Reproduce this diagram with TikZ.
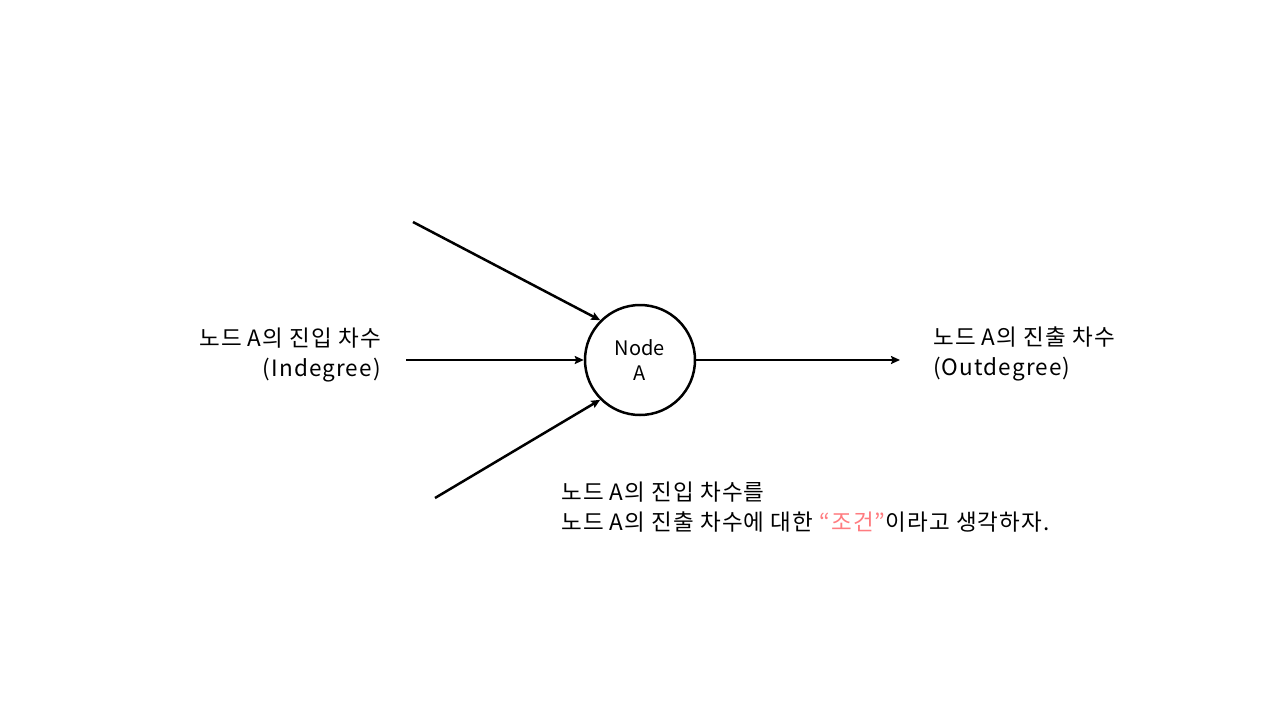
\documentclass[tikz,border=0pt]{standalone}
\usepackage{fontspec}
\newfontfamily\kr{Noto Sans CJK KR}
\newfontfamily\krw[LetterSpace=5]{Noto Sans CJK KR}
\usetikzlibrary{arrows.meta}
\definecolor{pinkred}{RGB}{255,124,128}
\tikzset{
  lbl/.style={font=\krw\fontsize{22.5}{30}\selectfont, inner sep=0pt},
  conn/.style={line width=2.5pt, -{Stealth[length=9pt,width=8pt,inset=1.5pt]}},
  nodecirc/.style={circle, draw, line width=2.5pt, minimum size=110pt, inner sep=0pt, align=center, font=\kr\fontsize{20}{25}\selectfont}
}
\begin{document}
\begin{tikzpicture}[x=1pt,y=-1pt]
\useasboundingbox (0,0) rectangle (1280,720);
\node[nodecirc] (A) at (640,360) {Node\\A};
\coordinate (s1) at (413,222);
\coordinate (s2) at (406,360);
\coordinate (s3) at (435,498);
\coordinate (e1) at (900,360);
\draw[conn] (s1) -- (A.135);
\draw[conn] (s2) -- (A.west);
\draw[conn] (s3) -- (A.225);
\draw[conn] (A.east) -- (e1);
\node[lbl, align=right, anchor=east] (lin) at (381,355) {노드 A의 진입 차수\\(Indegree)};
\node[lbl, align=left, anchor=west] (lout) at (933,354) {노드 A의 진출 차수\\(Outdegree)};
\node[lbl, align=left, anchor=west] (note) at (561,507) {노드 A의 진입 차수를\\노드 A의 진출 차수에 대한 {\color{pinkred}“조건”}이라고 생각하자.};
\end{tikzpicture}
\end{document}
